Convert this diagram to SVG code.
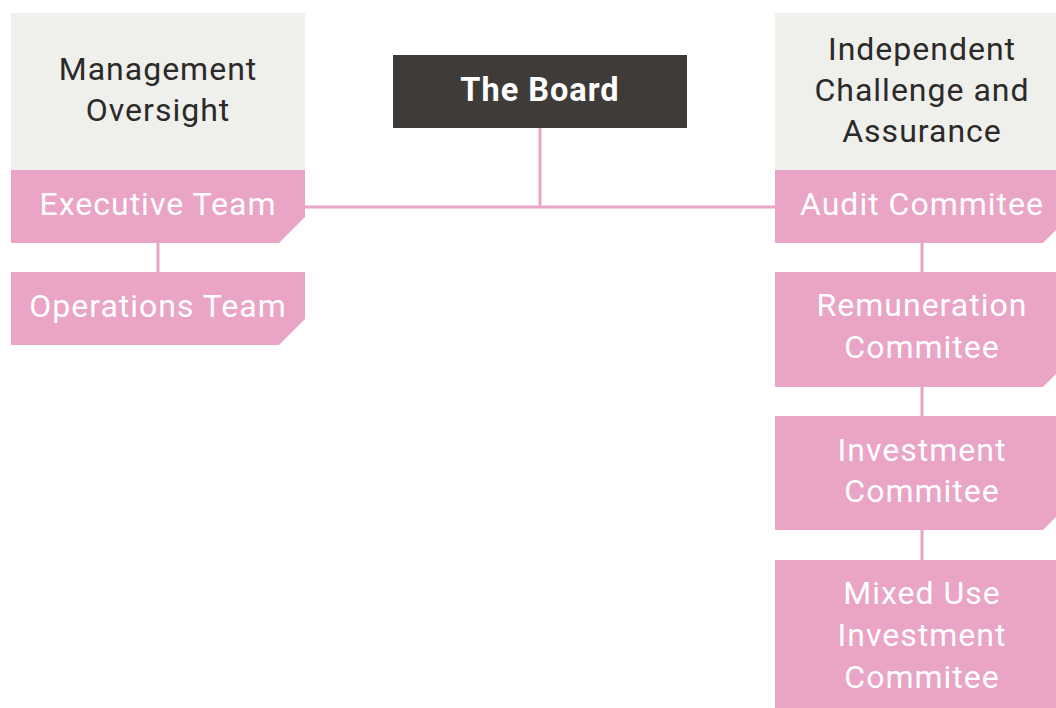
<svg xmlns="http://www.w3.org/2000/svg" width="1056" height="708" viewBox="0 0 1056 708">
<style>
.hdr{fill:#efefec}
.pink{fill:#e9a4c6}
.board{fill:#3e3b39}
.conn{stroke:#e9a4c6;stroke-width:3;fill:none}
text{font-family:Roboto,"Liberation Sans",sans-serif;font-size:32px;text-anchor:middle;letter-spacing:1px}
.dk{fill:#2b2a29}
.wt{fill:#ffffff}
.bt{fill:#ffffff;font-weight:bold;font-size:32.5px}
</style>
<rect width="1056" height="708" fill="#ffffff"/>
<g id="connectors">
<path class="conn" d="M540 128 V207 M305 207 H775"/>
<path class="conn" d="M158 243 V272"/>
<path class="conn" d="M922 243 V272 M922 387 V416 M922 530 V560"/>
</g>
<g id="board">
<rect class="board" x="393" y="55" width="294" height="73"/>
<text class="bt" x="540" y="101">The Board</text>
</g>
<g id="management-oversight">
<rect class="hdr" x="11" y="13" width="294" height="157"/>
<text class="dk" x="158" y="80">Management</text>
<text class="dk" x="158" y="121">Oversight</text>
</g>
<g id="executive-team">
<path class="pink" d="M11 170 H305 V217 L279 243 H11 Z"/>
<text class="wt" x="158" y="215">Executive Team</text>
</g>
<g id="operations-team">
<path class="pink" d="M11 272 H305 V319 L279 345 H11 Z"/>
<text class="wt" x="158" y="317">Operations Team</text>
</g>
<g id="independent-challenge">
<rect class="hdr" x="775" y="13" width="294" height="157"/>
<text class="dk" x="922" y="60">Independent</text>
<text class="dk" x="922" y="101">Challenge and</text>
<text class="dk" x="922" y="142">Assurance</text>
</g>
<g id="audit-committee">
<path class="pink" d="M775 170 H1069 V217 L1043 243 H775 Z"/>
<text class="wt" x="922" y="215">Audit Commitee</text>
</g>
<g id="remuneration-committee">
<path class="pink" d="M775 272 H1069 V361 L1043 387 H775 Z"/>
<text class="wt" x="922" y="316">Remuneration</text>
<text class="wt" x="922" y="358">Commitee</text>
</g>
<g id="investment-committee">
<path class="pink" d="M775 416 H1069 V504 L1043 530 H775 Z"/>
<text class="wt" x="922" y="461">Investment</text>
<text class="wt" x="922" y="502">Commitee</text>
</g>
<g id="mixed-use-committee">
<path class="pink" d="M775 560 H1069 V708 H775 Z"/>
<text class="wt" x="922" y="604">Mixed Use</text>
<text class="wt" x="922" y="646">Investment</text>
<text class="wt" x="922" y="688">Commitee</text>
</g>
</svg>
